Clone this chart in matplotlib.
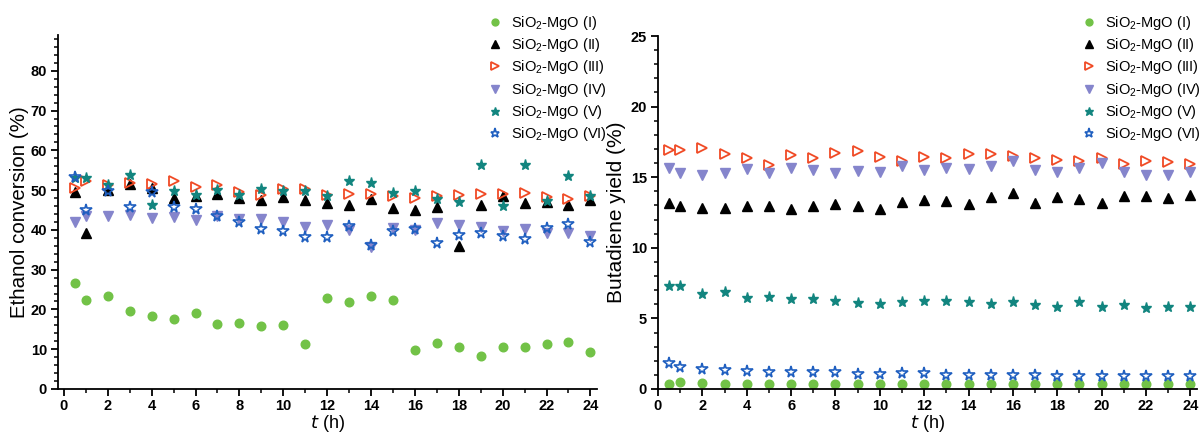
import matplotlib
matplotlib.use("Agg")
import matplotlib.pyplot as plt
from matplotlib.ticker import MultipleLocator

plt.rcParams['font.family'] = ['Liberation Sans', 'DejaVu Sans']
plt.rcParams['mathtext.default'] = 'regular'

t = [0.5] + list(range(1, 25))

labels = ['SiO$_2$-MgO (I)', 'SiO$_2$-MgO (II)', 'SiO$_2$-MgO (III)',
          'SiO$_2$-MgO (IV)', 'SiO$_2$-MgO (V)', 'SiO$_2$-MgO (VI)']

# Ethanol conversion (%)
conv_I = [26.6, 22.4, 23.5, 19.7, 18.3, 17.5, 19.2, 16.3, 16.6, 15.8, 16.2, 11.3,
          22.8, 21.9, 23.5, 22.3, 9.8, 11.6, 10.6, 8.3, 10.6, 10.5, 11.2, 11.7, 9.4]
conv_II = [49.5, 39.2, 50.0, 51.5, 50.5, 48.0, 48.5, 49.0, 48.0, 47.5, 48.2, 47.6,
           46.8, 46.3, 47.8, 45.4, 45.1, 45.8, 36.0, 46.3, 48.4, 46.7, 47.0, 46.3, 47.5]
conv_III = [50.5, 52.4, 51.3, 51.7, 51.5, 52.2, 50.7, 51.3, 49.5, 48.8, 50.2, 50.3,
            48.8, 49.1, 49.0, 48.6, 47.9, 48.4, 48.7, 48.9, 48.9, 49.4, 48.2, 47.7, 48.5]
conv_IV = [41.9, 43.6, 43.6, 43.8, 43.0, 43.3, 42.6, 43.5, 42.8, 42.8, 42.0, 40.8,
           41.3, 40.1, 35.7, 40.5, 40.0, 41.8, 41.3, 40.7, 39.7, 40.3, 39.3, 39.3, 38.5]
conv_V = [53.0, 53.0, 51.3, 53.8, 46.2, 49.8, 48.8, 50.0, 48.7, 50.4, 49.9, 49.8,
          48.4, 52.3, 51.7, 49.4, 49.7, 47.8, 47.0, 56.3, 46.1, 56.3, 47.2, 53.6, 48.5]
conv_VI = [53.2, 45.0, 49.8, 45.7, 49.5, 45.7, 45.3, 43.6, 42.0, 40.3, 39.7, 38.2,
           38.3, 40.9, 36.3, 39.7, 40.3, 36.8, 38.8, 39.1, 38.4, 37.6, 40.5, 41.5, 37.0]

# Butadiene yield (%)
yld_I = [0.38, 0.47, 0.45, 0.38, 0.38, 0.38, 0.38, 0.36, 0.36, 0.36, 0.36, 0.36,
         0.36, 0.36, 0.36, 0.36, 0.36, 0.36, 0.36, 0.36, 0.36, 0.36, 0.36, 0.36, 0.36]
yld_II = [13.2, 12.97, 12.85, 12.85, 12.97, 12.97, 12.78, 12.97, 13.08, 12.97, 12.78, 13.25,
          13.36, 13.3, 13.08, 13.6, 13.9, 13.2, 13.6, 13.48, 13.2, 13.67, 13.67, 13.55, 13.72]
yld_III = [16.95, 16.95, 17.06, 16.64, 16.36, 15.87, 16.57, 16.36, 16.69, 16.85, 16.46, 16.17,
           16.46, 16.34, 16.62, 16.62, 16.53, 16.34, 16.22, 16.15, 16.34, 15.9, 16.13, 16.06, 15.9]
yld_IV = [15.66, 15.29, 15.19, 15.29, 15.57, 15.29, 15.68, 15.52, 15.29, 15.43, 15.4, 15.82,
          15.52, 15.66, 15.59, 15.82, 16.13, 15.52, 15.36, 15.66, 16.0, 15.36, 15.19, 15.19, 15.4]
yld_V = [7.33, 7.33, 6.74, 6.86, 6.46, 6.55, 6.34, 6.34, 6.23, 6.11, 6.04, 6.13,
         6.23, 6.23, 6.13, 6.02, 6.13, 5.92, 5.83, 6.13, 5.83, 5.92, 5.73, 5.83, 5.83]
yld_VI = [1.85, 1.54, 1.43, 1.36, 1.26, 1.17, 1.17, 1.17, 1.17, 1.05, 1.05, 1.1,
          1.1, 0.98, 0.98, 0.98, 0.98, 0.98, 0.89, 0.89, 0.89, 0.89, 0.89, 0.89, 0.89]

styles = [
    dict(marker='o', color='#72c247', mfc='#72c247', mec='#72c247', ms=6.2),
    dict(marker='^', color='black', mfc='black', mec='black', ms=6.5),
    dict(marker='>', color='#f04a25', mfc='none', mec='#f04a25', ms=6.5, mew=1.3),
    dict(marker='v', color='#8585cc', mfc='#8585cc', mec='#8585cc', ms=7),
    dict(marker='*', color='#12857f', mfc='#12857f', mec='#12857f', ms=8),
    dict(marker='*', color='#1f5fc0', mfc='none', mec='#1f5fc0', ms=8.5, mew=1.2),
]

fig = plt.figure(figsize=(12, 4.33), dpi=100)
ax1 = fig.add_axes([58/1200, 44/433, 539/1200, 354/433])
ax2 = fig.add_axes([658/1200, 44/433, 539/1200, 353/433])

conv = [conv_I, conv_II, conv_III, conv_IV, conv_V, conv_VI]
yld = [yld_I, yld_II, yld_III, yld_IV, yld_V, yld_VI]

for ax, data in ((ax1, conv), (ax2, yld)):
    for d, st, lab in zip(data, styles, labels):
        ax.plot(t, d, linestyle='none', label=lab, **st)
    for s in ('top', 'right'):
        ax.spines[s].set_visible(False)
    for s in ('left', 'bottom'):
        ax.spines[s].set_linewidth(1.3)
    ax.xaxis.set_major_locator(MultipleLocator(2))
    ax.xaxis.set_minor_locator(MultipleLocator(1))
    ax.tick_params(which='major', length=5, width=1.3, labelsize=10.5, pad=3)
    ax.tick_params(axis='x', which='major', pad=2)
    ax.tick_params(which='minor', length=3, width=1.1)
    ax.set_xlabel('$\\it{t}$ (h)', fontsize=13)
    ax.xaxis.set_label_coords(0.5, -0.068)

ax1.set_xlim(-0.27, 24.3)
ax1.set_ylim(0, 89)
ax1.yaxis.set_major_locator(MultipleLocator(10))
ax1.yaxis.set_minor_locator(MultipleLocator(2))
ax1.set_ylabel('Ethanol conversion (%)', fontsize=14.8)
ax1.yaxis.set_label_coords(-0.054, 0.5)

ax2.set_xlim(0, 24.3)
ax2.set_ylim(0, 25)
ax2.yaxis.set_major_locator(MultipleLocator(5))
ax2.yaxis.set_minor_locator(MultipleLocator(1))
ax2.set_ylabel('Butadiene yield (%)', fontsize=15)
ax2.yaxis.set_label_coords(-0.059, 0.5)

for ax in (ax1, ax2):
    for lbl in ax.get_xticklabels() + ax.get_yticklabels():
        lbl.set_fontweight('bold')

leg_kw = dict(loc='upper left', frameon=False, fontsize=10.5, handlelength=1.0,
              handletextpad=0.55, labelspacing=0.29, borderpad=0, borderaxespad=0,
              numpoints=1, markerscale=0.8)
ax1.legend(bbox_to_anchor=(488/1200, 1 - 14/433), bbox_transform=fig.transFigure, **leg_kw)
ax2.legend(bbox_to_anchor=(1082/1200, 1 - 14/433), bbox_transform=fig.transFigure, **leg_kw)

fig.savefig('out.png', dpi=100)
